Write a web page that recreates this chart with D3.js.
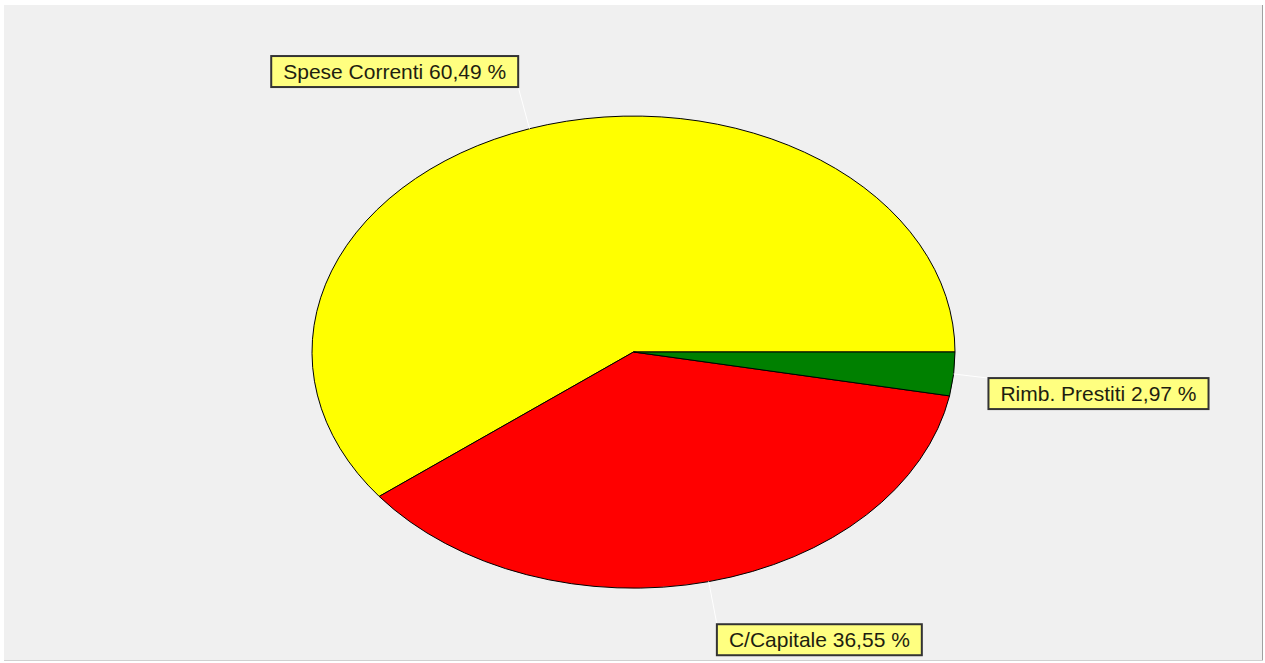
<!DOCTYPE html>
<html><head><meta charset="utf-8">
<script src="https://cdn.jsdelivr.net/npm/d3@7"></script>
<style>
html,body{margin:0;padding:0;background:#ffffff;}
svg{display:block;}
</style></head>
<body>
<svg id="chart" width="1265" height="663"></svg>
<script>
const categories = ["Spese Correnti", "C/Capitale", "Rimb. Prestiti"];
const values = [60.49, 36.55, 2.97];
const colors = ["#ffff00", "#ff0000", "#008000"];

const W = 1265, H = 663;
const cx = 633.5, cy = 352, rx = 321.5, ry = 236;
const svg = d3.select("#chart");

// panel
svg.append("rect").attr("x", 4).attr("y", 5).attr("width", 1258).attr("height", 655).attr("fill", "#f0f0f0");
svg.append("line").attr("x1", 1262.5).attr("x2", 1262.5).attr("y1", 5).attr("y2", 661).attr("stroke", "#a0a0a0").attr("stroke-width", 1);
svg.append("line").attr("x1", 4).attr("x2", 1263).attr("y1", 660.5).attr("y2", 660.5).attr("stroke", "#d0d0d0").attr("stroke-width", 1);

// pie: start at 3 o'clock, counterclockwise
const pie = d3.pie().sort(null).value(d => d)
  .startAngle(Math.PI / 2).endAngle(Math.PI / 2 - 2 * Math.PI);
const arcs = pie(values);
const arc = d3.arc().innerRadius(0).outerRadius(1);

const g = svg.append("g").attr("transform", `translate(${cx},${cy}) scale(${rx},${ry})`);
g.selectAll("path").data(arcs).join("path")
  .attr("d", arc)
  .attr("fill", (d, i) => colors[i])
  .attr("stroke", "#000")
  .attr("stroke-width", 1)
  .attr("vector-effect", "non-scaling-stroke");

// labels
const fmt = v => d3.format(".2f")(v).replace(".", ",") + " %";
const distX = 35, distY = 44;
const fontSize = 21;
arcs.forEach((a, i) => {
  const mid = (a.startAngle + a.endAngle) / 2; // d3 angle: clockwise from 12 o'clock
  const s = Math.sin(mid), c = -Math.cos(mid);
  const ax = cx + rx * s, ay = cy + ry * c;
  const px = cx + (rx + distX) * s, py = cy + (ry + distY) * c;
  svg.append("line").attr("x1", ax).attr("y1", ay).attr("x2", px).attr("y2", py)
    .attr("stroke", "#ffffff").attr("stroke-width", 1);
  const lg = svg.append("g");
  const t = lg.append("text").text(categories[i] + " " + fmt(values[i]))
    .attr("font-family", "Liberation Sans, Arial, sans-serif")
    .attr("font-size", fontSize).attr("fill", "#1e1e10");
  const bb = t.node().getBBox();
  const bw = bb.width + 24, bh = 31;
  const bx = s >= 0 ? px : px - bw;
  const by = c >= 0 ? py : py - bh;
  lg.insert("rect", "text").attr("x", bx).attr("y", by).attr("width", bw).attr("height", bh)
    .attr("fill", "#ffff80").attr("stroke", "#333333").attr("stroke-width", 2);
  t.attr("x", bx + 12).attr("y", by + bh / 2 + fontSize * 0.36);
});
</script>
</body></html>
